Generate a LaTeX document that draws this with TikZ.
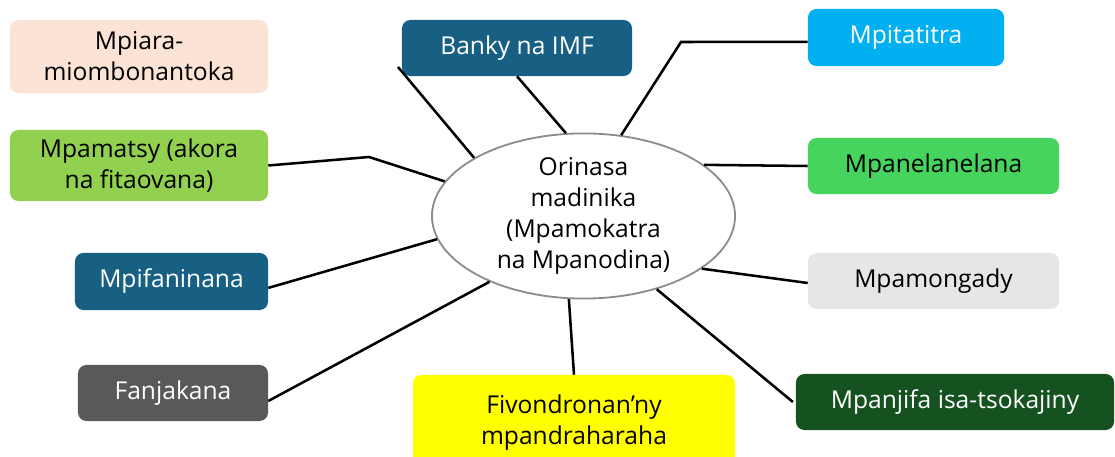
\documentclass[tikz,border=0pt]{standalone}
\usepackage{fontspec}
\setmainfont{Open Sans}
\usetikzlibrary{shapes.geometric}
\definecolor{cpeach}{HTML}{FBE3D6}
\definecolor{cteal}{HTML}{186083}
\definecolor{csky}{HTML}{00B0F0}
\definecolor{clime}{HTML}{92D050}
\definecolor{cgreen}{HTML}{47D45E}
\definecolor{clgray}{HTML}{E6E6E6}
\definecolor{cdgray}{HTML}{595959}
\definecolor{cyel}{HTML}{FFFF00}
\definecolor{cdgreen}{HTML}{15521F}
\definecolor{cell}{HTML}{8C8C8C}
\begin{document}
\begin{tikzpicture}[x=0.025cm,y=-0.025cm,
  every node/.style={font=\fontsize{17.5}{22}\selectfont},
  tbox/.style={rounded corners=6pt, inner sep=0pt, align=center, draw=none},
  wtxt/.style={text=white},
  link/.style={line width=1.8pt, black}]
\useasboundingbox (0,0) rectangle (1115,457);
\begin{scope}
\clip (0,0) rectangle (1115,457);
\node[tbox, fill=cpeach, minimum width=6.45cm, minimum height=1.825cm] (b1) at (139,56.5) {Mpiara-\\miombonantoka};
\node[tbox, fill=cteal, wtxt, minimum width=5.75cm, minimum height=1.4cm] (b2) at (517,48) {Banky na IMF};
\node[tbox, fill=csky, wtxt, minimum width=4.9cm, minimum height=1.425cm] (b3) at (906,37.5) {Mpitatitra};
\node[tbox, fill=clime, minimum width=6.45cm, minimum height=1.775cm] (b4) at (139,165.5) {Mpamatsy (akora\\na fitaovana)};
\node[tbox, fill=cgreen, minimum width=6.275cm, minimum height=1.4cm] (b5) at (933.5,166) {Mpanelanelana};
\node[tbox, fill=cteal, wtxt, minimum width=4.825cm, minimum height=1.425cm] (b6) at (171.5,281.5) {Mpifaninana};
\node[tbox, fill=clgray, minimum width=6.275cm, minimum height=1.4cm] (b7) at (933.5,281) {Mpamongady};
\node[tbox, fill=cdgray, wtxt, minimum width=4.75cm, minimum height=1.4cm] (b8) at (173,393) {Fanjakana};
\node[tbox, fill=cyel, minimum width=8.05cm, minimum height=2.4cm] (b9) at (574,423) {Fivondronan’ny\\mpandraharaha};
\node[tbox, fill=cdgreen, wtxt, minimum width=7.95cm, minimum height=1.4cm] (b10) at (955,402) {Mpanjifa isa-tsokajiny};

\node[ellipse, draw=cell, line width=1.3pt, fill=white, minimum width=7.575cm, minimum height=4cm, inner sep=0pt, align=center] (c) at (583.5,216) {Orinasa\\madinika\\(Mpamokatra\\na Mpanodina)};

\coordinate (f1) at (398,67);
\coordinate (e3) at (681,42);
\coordinate (e4) at (369,157);

\draw[link] (f1) -- (c.152);
\draw[link] (b2.south) -- (c.102);
\draw[link] (c.65) -- (e3) -- ([yshift=-0.11cm]b3.west);
\draw[link] (b4.east) -- (e4) -- (c.166);
\draw[link] (c.23) -- (b5.west);
\draw[link] ([yshift=-0.16cm]b6.east) -- (c.189);
\draw[link] (c.-24) -- ([yshift=-0.05cm]b7.west);
\draw[link] ([yshift=-0.2cm]b8.east) -- (c.215);
\draw[link] (c.260) -- (b9.north);
\draw[link] (c.-45) -- ([xshift=-0.07cm]b10.west);
\end{scope}
\end{tikzpicture}
\end{document}
